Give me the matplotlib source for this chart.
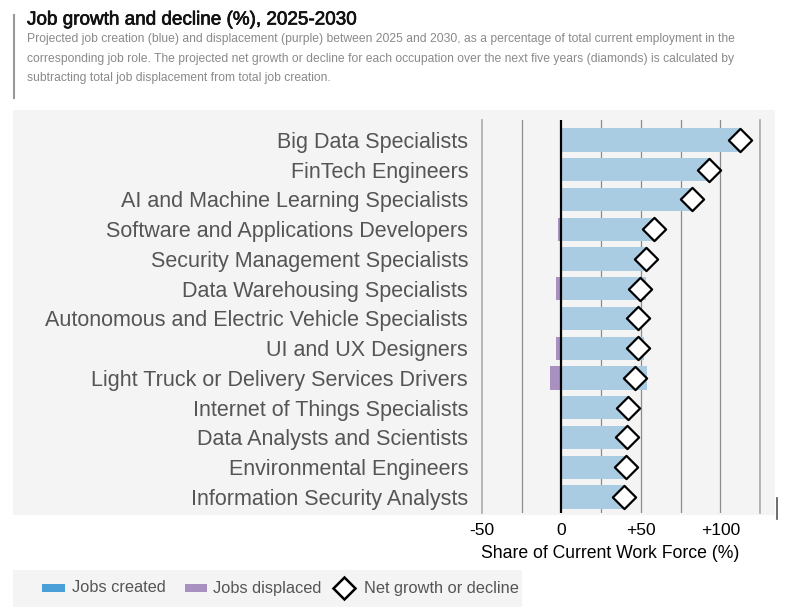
import matplotlib
matplotlib.use("Agg")
import matplotlib.pyplot as plt
from matplotlib.patches import Rectangle
from matplotlib.lines import Line2D
import matplotlib.patheffects as pe
import numpy as np

plt.rcParams['font.family'] = ['Liberation Sans', 'DejaVu Sans']

occupations = [
    "Big Data Specialists",
    "FinTech Engineers",
    "AI and Machine Learning Specialists",
    "Software and Applications Developers",
    "Security Management Specialists",
    "Data Warehousing Specialists",
    "Autonomous and Electric Vehicle Specialists",
    "UI and UX Designers",
    "Light Truck or Delivery Services Drivers",
    "Internet of Things Specialists",
    "Data Analysts and Scientists",
    "Environmental Engineers",
    "Information Security Analysts",
    "",
]
jobs_created = [113, 94, 82, 60, 53, 53, 49, 52, 54, 42, 41.5, 40.5, 39.5, 42]
jobs_displaced = [0.5, 1, 0.3, 2, 0.5, 3.5, 0.5, 3.5, 7.5, 0.3, 0.3, 0.3, 0.3, 1]
net_change = [112.5, 93, 82, 58, 53, 49.5, 48.5, 48.5, 46.5, 42, 41.5, 40.5, 39.2, 41]
xticks = [-50, 0, 50, 100]
xtick_labels = ["-50", "0", "+50", "+100"]
grid_x = [-25, 25, 75, 125]

BLUE = "#a9cce3"
PURPLE = "#a890c0"
BG = "#f4f4f4"
TEXT = "#555555"

fig = plt.figure(figsize=(8, 6.11), dpi=100)
W, H = 800, 611

def fx(px):
    return px / W

def fy(py):
    return 1 - py / H

# gray panel behind chart
fig.add_artist(Rectangle((fx(13), fy(515)), fx(775) - fx(13), fy(110) - fy(515),
                         transform=fig.transFigure, facecolor=BG, edgecolor="none", zorder=0))
# title block
fig.add_artist(Line2D([fx(14), fx(14)], [fy(15), fy(98)], transform=fig.transFigure,
                      color="#999999", lw=1.5))
fig.text(fx(27), fy(20), "Job growth and decline (%), 2025-2030", fontsize=13.6,
         color="#111111", va="center", ha="left",
         path_effects=[pe.withStroke(linewidth=0.5, foreground="#111111")])
sub = ("Projected job creation (blue) and displacement (purple) between 2025 and 2030, as a percentage of total current employment in the\n"
       "corresponding job role. The projected net growth or decline for each occupation over the next five years (diamonds) is calculated by\n"
       "subtracting total job displacement from total job creation.")
fig.text(fx(27), fy(33), sub, fontsize=8.7, color="#8a8a8a", va="top", ha="left",
         linespacing=1.86)

# stray dark tick near the right
fig.add_artist(Line2D([fx(777), fx(777)], [fy(498), fy(519)], transform=fig.transFigure,
                      color="#555555", lw=1.2))

ax = fig.add_axes([fx(482), fy(513), fx(760) - fx(482), fy(120) - fy(513)])
ax.set_facecolor(BG)
ax.patch.set_alpha(0)

y = np.arange(len(occupations))
ax.barh(y, jobs_created, height=0.78, color=BLUE, zorder=2)
ax.barh(y, [-d for d in jobs_displaced], height=0.78, color=PURPLE, zorder=2)
ax.scatter(net_change, y, marker="D", s=140, facecolor="white", edgecolor="black",
           linewidth=1.6, zorder=4, clip_on=True)

for gx in grid_x + [50, 100]:
    ax.axvline(gx, color="#8c8c8c", lw=0.9, zorder=1)
ax.axvline(0, color="black", lw=1.6, zorder=3)

ax.set_xlim(-49.5, 125)
ax.set_ylim(12.54, -0.67)

ax.set_yticks(y[:13])
ax.set_yticklabels(occupations[:13], fontsize=15.5, color=TEXT)
ax.tick_params(axis="y", length=0, pad=10)

ax.set_xticks(xticks)
ax.set_xticklabels(xtick_labels, fontsize=12.5, color="black")
ax.tick_params(axis="x", length=0, pad=7)
ax.set_xlabel("Share of Current Work Force (%)", fontsize=12.7, color="black")
ax.xaxis.set_label_coords((610 - 482) / 278, -(553 - 513) / 393, transform=ax.transAxes)
ax.xaxis.label.set_va("center")

for side in ["top", "bottom"]:
    ax.spines[side].set_visible(False)
for side in ["left", "right"]:
    ax.spines[side].set_color("#aaaaaa")
    ax.spines[side].set_linewidth(1.2)

# legend box
fig.add_artist(Rectangle((fx(13), fy(607)), fx(522) - fx(13), fy(570) - fy(607),
                         transform=fig.transFigure, facecolor=BG, edgecolor="none", zorder=0))
ly = fy(588)
fig.add_artist(Rectangle((fx(42), ly - 0.006), fx(23), 0.012, transform=fig.transFigure,
                         facecolor="#4a9fd8", edgecolor="none"))
fig.text(fx(72), ly, "Jobs created", fontsize=11.8, color=TEXT, va="center", ha="left")
fig.add_artist(Rectangle((fx(185), ly - 0.006), fx(22), 0.012, transform=fig.transFigure,
                         facecolor=PURPLE, edgecolor="none"))
fig.text(fx(213), ly, "Jobs displaced", fontsize=11.8, color=TEXT, va="center", ha="left")
fig.add_artist(Line2D([fx(344)], [ly], transform=fig.transFigure, marker="D", markersize=11,
                      markerfacecolor="white", markeredgecolor="black", markeredgewidth=1.8,
                      linestyle="none"))
fig.text(fx(364), ly, "Net growth or decline", fontsize=11.8, color=TEXT, va="center", ha="left")

fig.savefig("out.png", dpi=100, facecolor="white")
